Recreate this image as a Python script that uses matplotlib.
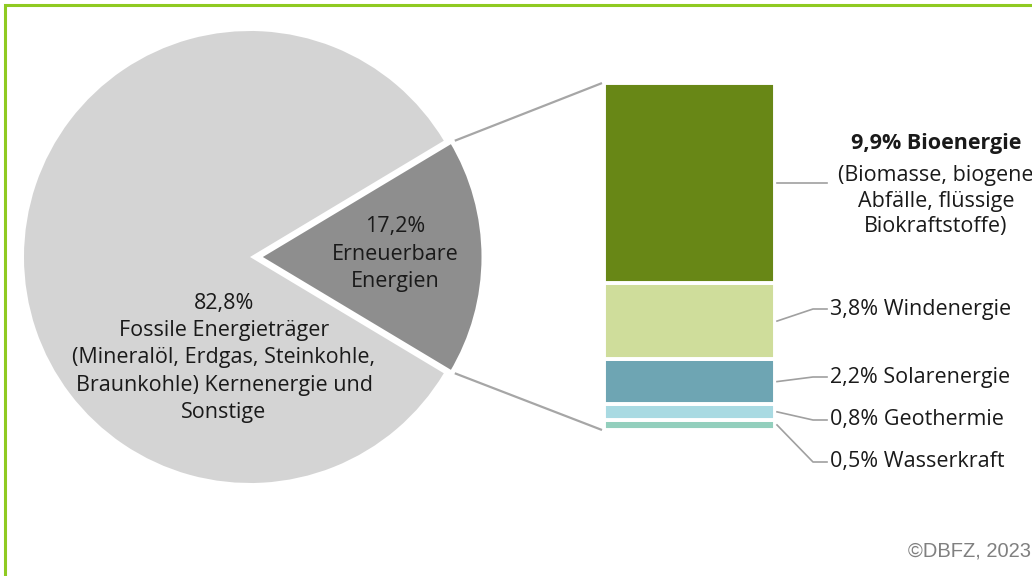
import numpy as np
import matplotlib.pyplot as plt
from matplotlib.patches import Rectangle

# Anteile am Endenergieverbrauch (%)
pie_labels = ['Erneuerbare Energien', 'Fossile Energieträger']
pie_values = [17.2, 82.8]
pie_colors = ['#8e8e8e', '#d4d4d4']

# Aufteilung der Erneuerbaren, von unten nach oben gestapelt
ee_names = ['Wasserkraft', 'Geothermie', 'Solarenergie', 'Windenergie', 'Bioenergie']
ee_values = [0.5, 0.8, 2.2, 3.8, 9.9]
ee_colors = ['#93cfbd', '#a9dae2', '#6ea5b3', '#cfdd9b', '#688716']

W, H = 1032, 576
def Y(py):
    return H - py

plt.rcParams['font.family'] = ['Open Sans', 'DejaVu Sans']

fig = plt.figure(figsize=(W / 100, H / 100), dpi=100)
ax = fig.add_axes([0, 0, 1, 1])

# Tortendiagramm, Erneuerbare leicht herausgezogen
start = -pie_values[0] * 3.6 / 2
wedges, _ = ax.pie(pie_values, colors=pie_colors, startangle=start,
                   center=(250, Y(257)), radius=226, explode=[8, 0],
                   wedgeprops=dict(edgecolor='white', linewidth=3.6))
wedges[1].set_edgecolor('none')

ax.set_xlim(0, W)
ax.set_ylim(0, H)
ax.set_aspect('equal')
ax.axis('off')

# gestapelter Balken
scale = 20.17
bar_x, bar_w = 689.5, 171
bottom = Y(430)
bars = []
for v, c in zip(ee_values, ee_colors):
    b = ax.bar(bar_x, v * scale, width=bar_w, bottom=bottom, color=c,
               edgecolor='white', linewidth=2.8)[0]
    bars.append(b)
    bottom += v * scale

# Verbindungslinien Torte -> Balken
w = wedges[0]
cx, cy = w.center
for ang, by in [(w.theta2, bottom), (w.theta1, Y(430))]:
    px = cx + w.r * np.cos(np.radians(ang))
    py = cy + w.r * np.sin(np.radians(ang))
    ax.plot([px + 3, bar_x - bar_w / 2 - 2], [py, by], color='#a6a6a6', lw=1.6,
            solid_capstyle='butt')

txt = '#1a1a1a'
ax.text(395, Y(254), '17,2%\nErneuerbare\nEnergien', ha='center', va='center',
        fontsize=15.5, linespacing=1.4, color=txt)
ax.text(224, Y(358), '82,8%\nFossile Energieträger\n(Mineralöl, Erdgas, Steinkohle,\n'
        'Braunkohle) Kernenergie und\nSonstige', ha='center', va='center',
        fontsize=15.5, linespacing=1.4, color=txt)

# Beschriftungen rechts mit Führungslinien
lead = '#a0a0a0'
right = bar_x + bar_w / 2 + 2
label_y = {'Windenergie': 309, 'Solarenergie': 377, 'Geothermie': 420, 'Wasserkraft': 462}
for b, name, v in zip(bars, ee_names, ee_values):
    ym = b.get_y() + b.get_height() / 2
    if name == 'Bioenergie':
        ax.plot([right, 827], [ym, ym], color=lead, lw=1.2)
        continue
    ty = Y(label_y[name])
    ax.plot([right, 813, 827], [ym, ty, ty], color=lead, lw=1.2)
    ax.text(830, ty, f'{v:.1f}% {name}'.replace('.', ','), ha='left', va='center',
            fontsize=15.5, color=txt)

ax.text(936, Y(143), '9,9% Bioenergie', ha='center', va='center', fontsize=15.5,
        fontweight='bold', color=txt)
ax.text(936, Y(201), '(Biomasse, biogene\nAbfälle, flüssige\nBiokraftstoffe)',
        ha='center', va='center', fontsize=15.5, linespacing=1.3, color=txt)

ax.text(908, Y(551), '©DBFZ, 2023', ha='left', va='center', fontsize=14.5,
        color='#808080', family=['Liberation Sans', 'DejaVu Sans'])

# grüner Rahmen
fig.patches.append(Rectangle((5 / W, -0.1), 1.2, 1.1 - 5 / H, transform=fig.transFigure,
                             fill=False, edgecolor='#8fca22', linewidth=2.2))

fig.savefig('out.png', dpi=100)
